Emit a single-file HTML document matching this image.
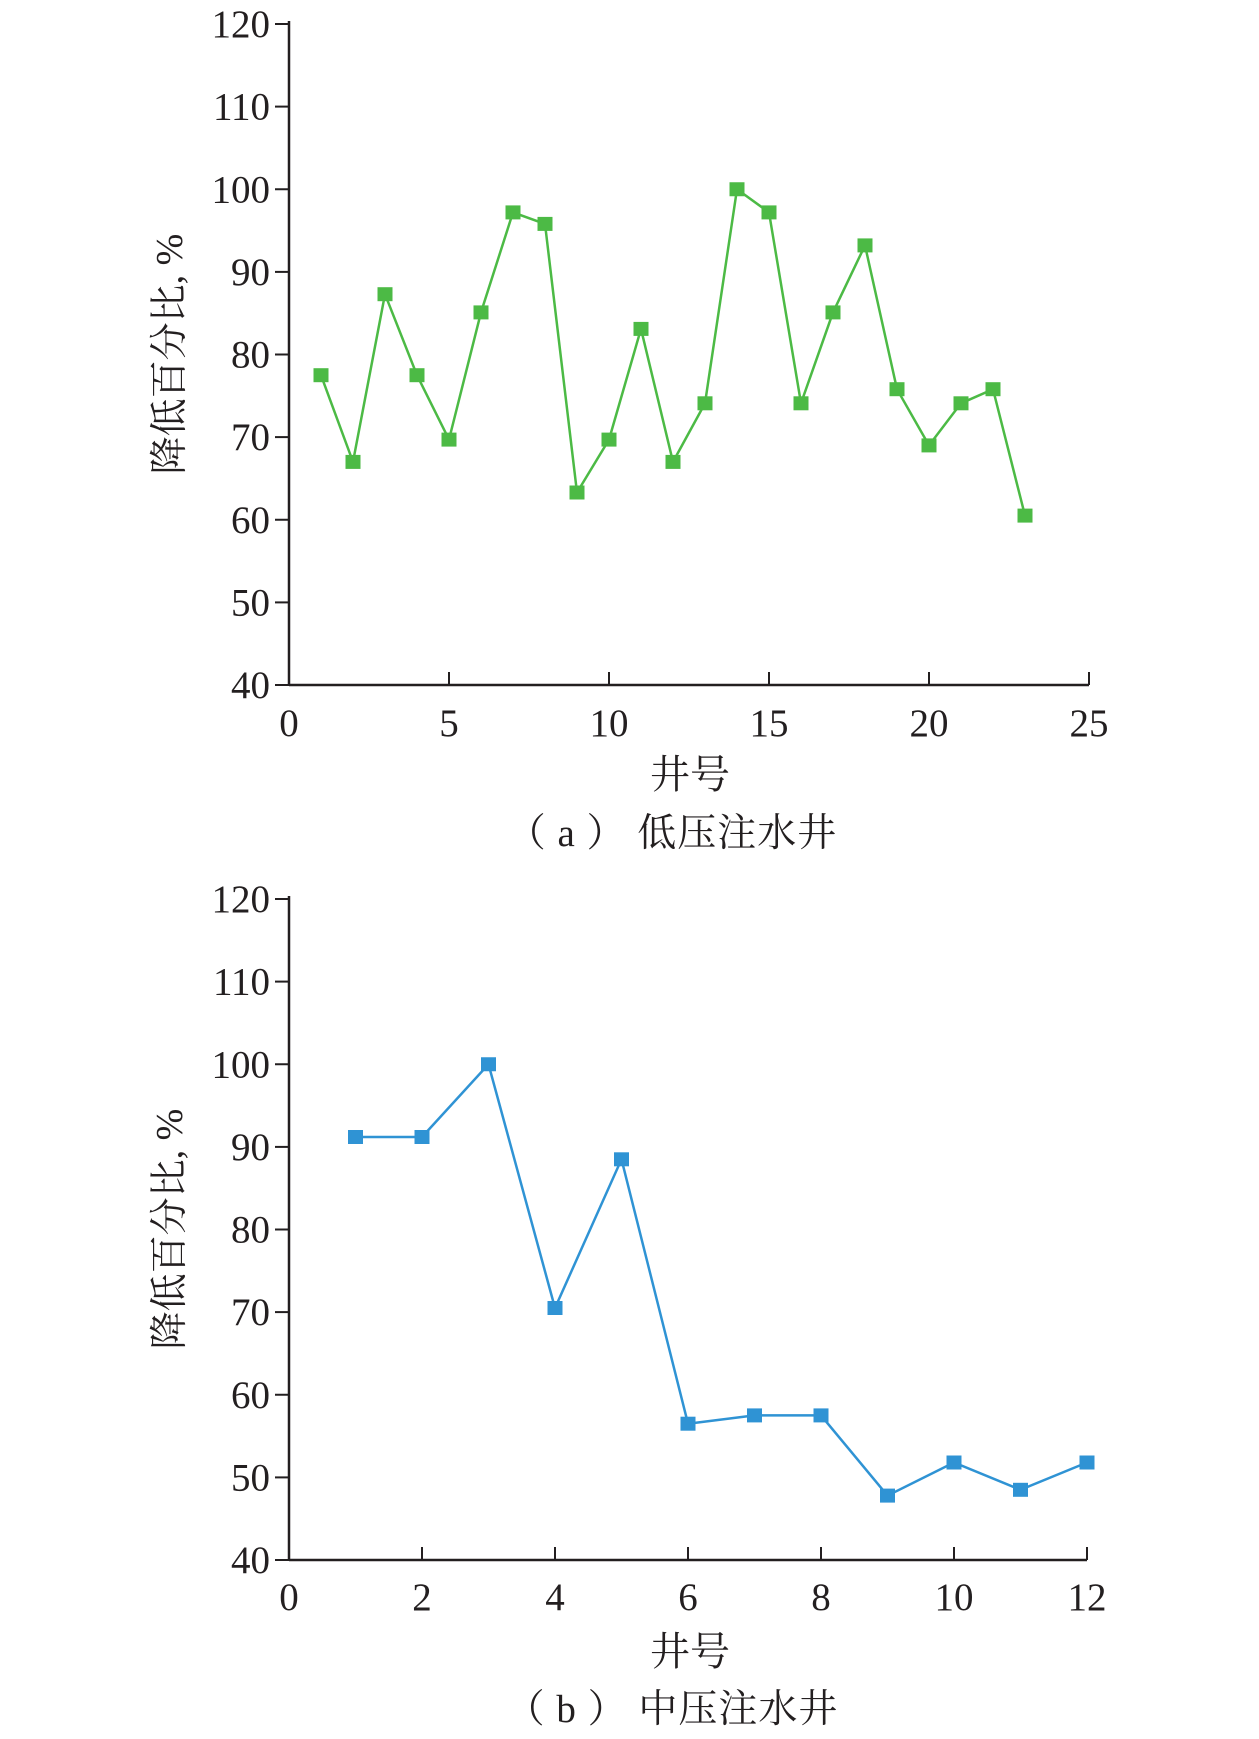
<!DOCTYPE html>
<html><head><meta charset="utf-8"><style>
html,body{margin:0;padding:0;background:#fff;}
svg text{font-family:"Liberation Serif","Noto Serif CJK SC",serif;fill:#231f20;}
</style></head><body>
<svg width="1259" height="1734" viewBox="0 0 1259 1734" xmlns="http://www.w3.org/2000/svg">
<defs>
<rect id="mg" x="-7.5" y="-7" width="15" height="14" fill="#4cba45"/>
<rect id="mb" x="-7.5" y="-7" width="15" height="14" fill="#2f93d4"/>
</defs>
<!-- Chart a -->
<g stroke="#231f20" stroke-width="2.5" fill="none">
<line x1="289" y1="21" x2="289" y2="685"/>
<line x1="289" y1="685" x2="1089" y2="685"/>
</g>
<g stroke="#231f20" stroke-width="2">
<line x1="275" y1="685" x2="289" y2="685"/><line x1="275" y1="602.4" x2="289" y2="602.4"/>
<line x1="275" y1="519.75" x2="289" y2="519.75"/><line x1="275" y1="437.1" x2="289" y2="437.1"/>
<line x1="275" y1="354.5" x2="289" y2="354.5"/><line x1="275" y1="271.9" x2="289" y2="271.9"/>
<line x1="275" y1="189.25" x2="289" y2="189.25"/><line x1="275" y1="106.6" x2="289" y2="106.6"/>
<line x1="275" y1="24" x2="289" y2="24"/>
<line x1="449" y1="672" x2="449" y2="685"/><line x1="609" y1="672" x2="609" y2="685"/>
<line x1="769" y1="672" x2="769" y2="685"/><line x1="929" y1="672" x2="929" y2="685"/>
<line x1="1089" y1="672" x2="1089" y2="685"/>
</g>
<g font-size="39" text-anchor="end">
<text x="270" y="698">40</text><text x="270" y="615.4">50</text><text x="270" y="532.75">60</text>
<text x="270" y="450.1">70</text><text x="270" y="367.5">80</text><text x="270" y="284.9">90</text>
<text x="270" y="202.25">100</text><text x="270" y="119.6">110</text><text x="270" y="37">120</text>
</g>
<g font-size="39" text-anchor="middle">
<text x="289" y="736">0</text><text x="449" y="736">5</text><text x="609" y="736">10</text>
<text x="769" y="736">15</text><text x="929" y="736">20</text><text x="1089" y="736">25</text>
</g>
<polyline fill="none" stroke="#4cba45" stroke-width="2.5" points="321,375.2 353,461.9 385,294.2 417,375.2 449,439.6 481,312.4 513,212.4 545,223.9 577,492.5 609,439.6 641,328.9 673,461.9 705,403.3 737,189.25 769,212.4 801,403.3 833,312.4 865,245.4 897,389.2 929,445.4 961,403.3 993,389.2 1025,515.6"/>
<use href="#mg" x="321" y="375.2"/><use href="#mg" x="353" y="461.9"/><use href="#mg" x="385" y="294.2"/>
<use href="#mg" x="417" y="375.2"/><use href="#mg" x="449" y="439.6"/><use href="#mg" x="481" y="312.4"/>
<use href="#mg" x="513" y="212.4"/><use href="#mg" x="545" y="223.9"/><use href="#mg" x="577" y="492.5"/>
<use href="#mg" x="609" y="439.6"/><use href="#mg" x="641" y="328.9"/><use href="#mg" x="673" y="461.9"/>
<use href="#mg" x="705" y="403.3"/><use href="#mg" x="737" y="189.25"/><use href="#mg" x="769" y="212.4"/>
<use href="#mg" x="801" y="403.3"/><use href="#mg" x="833" y="312.4"/><use href="#mg" x="865" y="245.4"/>
<use href="#mg" x="897" y="389.2"/><use href="#mg" x="929" y="445.4"/><use href="#mg" x="961" y="403.3"/>
<use href="#mg" x="993" y="389.2"/><use href="#mg" x="1025" y="515.6"/>
<text transform="translate(182,354) rotate(-90)" font-size="38" text-anchor="middle">降低百分比, %</text>
<text x="690" y="788" font-size="40" text-anchor="middle">井号</text>
<text x="672" y="846" font-size="39" text-anchor="middle" letter-spacing="1">（ a ） 低压注水井</text>

<!-- Chart b -->
<g stroke="#231f20" stroke-width="2.5" fill="none">
<line x1="289" y1="896" x2="289" y2="1560"/>
<line x1="289" y1="1560" x2="1087" y2="1560"/>
</g>
<g stroke="#231f20" stroke-width="2">
<line x1="275" y1="1560" x2="289" y2="1560"/><line x1="275" y1="1477.4" x2="289" y2="1477.4"/>
<line x1="275" y1="1394.75" x2="289" y2="1394.75"/><line x1="275" y1="1312.1" x2="289" y2="1312.1"/>
<line x1="275" y1="1229.5" x2="289" y2="1229.5"/><line x1="275" y1="1146.9" x2="289" y2="1146.9"/>
<line x1="275" y1="1064.25" x2="289" y2="1064.25"/><line x1="275" y1="981.6" x2="289" y2="981.6"/>
<line x1="275" y1="899" x2="289" y2="899"/>
<line x1="422" y1="1547" x2="422" y2="1560"/><line x1="555" y1="1547" x2="555" y2="1560"/>
<line x1="688" y1="1547" x2="688" y2="1560"/><line x1="821" y1="1547" x2="821" y2="1560"/>
<line x1="954" y1="1547" x2="954" y2="1560"/><line x1="1087" y1="1547" x2="1087" y2="1560"/>
</g>
<g font-size="39" text-anchor="end">
<text x="270" y="1573">40</text><text x="270" y="1490.4">50</text><text x="270" y="1407.75">60</text>
<text x="270" y="1325.1">70</text><text x="270" y="1242.5">80</text><text x="270" y="1159.9">90</text>
<text x="270" y="1077.25">100</text><text x="270" y="994.6">110</text><text x="270" y="912">120</text>
</g>
<g font-size="39" text-anchor="middle">
<text x="289" y="1610">0</text><text x="422" y="1610">2</text><text x="555" y="1610">4</text>
<text x="688" y="1610">6</text><text x="821" y="1610">8</text><text x="954" y="1610">10</text>
<text x="1087" y="1610">12</text>
</g>
<polyline fill="none" stroke="#2f93d4" stroke-width="2.5" points="355.5,1137 422,1137 488.5,1064.25 555,1308 621.5,1159.3 688,1423.7 754.5,1415.4 821,1415.4 887.5,1495.6 954,1462.5 1020.5,1489.8 1087,1462.5"/>
<use href="#mb" x="355.5" y="1137"/><use href="#mb" x="422" y="1137"/><use href="#mb" x="488.5" y="1064.25"/>
<use href="#mb" x="555" y="1308"/><use href="#mb" x="621.5" y="1159.3"/><use href="#mb" x="688" y="1423.7"/>
<use href="#mb" x="754.5" y="1415.4"/><use href="#mb" x="821" y="1415.4"/><use href="#mb" x="887.5" y="1495.6"/>
<use href="#mb" x="954" y="1462.5"/><use href="#mb" x="1020.5" y="1489.8"/><use href="#mb" x="1087" y="1462.5"/>
<text transform="translate(182,1229) rotate(-90)" font-size="38" text-anchor="middle">降低百分比, %</text>
<text x="690" y="1665" font-size="40" text-anchor="middle">井号</text>
<text x="672" y="1722" font-size="39" text-anchor="middle" letter-spacing="1">（ b ） 中压注水井</text>
</svg>
</body></html>
